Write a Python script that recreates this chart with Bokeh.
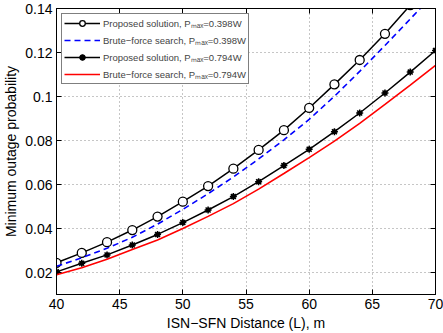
from bokeh.plotting import figure
from bokeh.models import LinearAxis, FixedTicker, CustomJSTickFormatter, Range1d
from bokeh.embed import file_html
from bokeh.resources import INLINE

# ---- data ----
distance = [40, 42, 44, 46, 48, 50, 52, 54, 56, 58, 60, 62, 64, 66, 68, 70]
prop_398 = [0.0244, 0.0289, 0.0338, 0.0393, 0.0454, 0.0522, 0.0593, 0.0672,
            0.0757, 0.0847, 0.0948, 0.1055, 0.1166, 0.1285, 0.1415, 0.1545]
brute_398 = [0.0228, 0.0267, 0.0310, 0.0360, 0.0420, 0.0487, 0.0558, 0.0634,
             0.0716, 0.0803, 0.0896, 0.1001, 0.1114, 0.1232, 0.1352, 0.1474]
prop_794 = [0.0203, 0.0242, 0.0280, 0.0325, 0.0373, 0.0427, 0.0484, 0.0545,
            0.0613, 0.0686, 0.0760, 0.0840, 0.0925, 0.1016, 0.1111, 0.1209]
brute_794 = [0.0190, 0.0222, 0.0260, 0.0304, 0.0348, 0.0400, 0.0455, 0.0513,
             0.0579, 0.0650, 0.0722, 0.0797, 0.0878, 0.0964, 0.1052, 0.1141]
x_ticks = [40, 45, 50, 55, 60, 65, 70]
y_ticks = [0.02, 0.04, 0.06, 0.08, 0.1, 0.12, 0.14]

labels = ["Proposed solution, P\u2098\u2090\u2093=0.398W",
          "Brute\u2212force search, P\u2098\u2090\u2093=0.398W",
          "Proposed solution, P\u2098\u2090\u2093=0.794W",
          "Brute\u2212force search, P\u2098\u2090\u2093=0.794W"]

FONT = "Liberation Sans"

p = figure(width=443, height=333, output_backend="svg", toolbar_location=None,
           x_range=Range1d(40, 70), y_range=Range1d(0.01, 0.14),
           min_border_left=54, min_border_right=8, min_border_top=8, min_border_bottom=37)

p.outline_line_color = "black"
p.outline_line_width = 1
p.background_fill_color = "white"
p.border_fill_color = "white"

# series
p.line(distance, prop_398, line_color="black", line_width=1.5, legend_label=labels[0])
p.scatter(distance, prop_398, marker="circle", size=9, line_color="black", line_width=1.3,
          fill_color="white", legend_label=labels[0])
p.line(distance, brute_398, line_color="#0000ff", line_width=1.6, line_dash="6 4",
       legend_label=labels[1])
p.line(distance, prop_794, line_color="black", line_width=1.5, legend_label=labels[2])
p.scatter(distance, prop_794, marker="asterisk", size=7, line_color="black", line_width=1.5,
          legend_label=labels[2])
p.scatter(distance, prop_794, marker="circle", size=4, line_color="black", fill_color="black",
          legend_label=labels[2])
p.line(distance, brute_794, line_color="#ff0000", line_width=1.6, legend_label=labels[3])

# axes
for ax in (p.xaxis[0], p.yaxis[0]):
    ax.major_tick_in = 5
    ax.major_tick_out = 0
    ax.minor_tick_line_color = None
    ax.axis_line_color = "black"
    ax.major_label_text_font = FONT
    ax.major_label_text_font_size = "14px"
    ax.major_label_text_color = "black"
    ax.axis_label_text_font = FONT
    ax.axis_label_text_font_size = "14px"
    ax.axis_label_text_font_style = "normal"
    ax.axis_label_text_color = "black"

p.xaxis[0].ticker = FixedTicker(ticks=x_ticks)
p.yaxis[0].ticker = FixedTicker(ticks=y_ticks)
p.yaxis[0].formatter = CustomJSTickFormatter(code="return String(Math.round(tick*100)/100);")
p.xaxis[0].axis_label = "ISN\u2212SFN Distance (L), m"
p.yaxis[0].axis_label = "Minimum outage probability"
p.xaxis[0].major_label_standoff = 4
p.yaxis[0].major_label_standoff = 4
p.xaxis[0].axis_label_standoff = 3
p.yaxis[0].axis_label_standoff = 3

# mirrored tick axes (MATLAB box style), no labels
top = LinearAxis(ticker=FixedTicker(ticks=x_ticks), major_tick_in=5, major_tick_out=0,
                 minor_tick_line_color=None, formatter=CustomJSTickFormatter(code="return '';"),
                 major_label_standoff=0)
right = LinearAxis(ticker=FixedTicker(ticks=y_ticks), major_tick_in=5, major_tick_out=0,
                   minor_tick_line_color=None, formatter=CustomJSTickFormatter(code="return '';"),
                   major_label_standoff=0)
p.add_layout(top, "above")
p.add_layout(right, "right")

# grid
p.grid.grid_line_color = "#8c8c8c"
p.grid.grid_line_dash = "1 3"
p.grid.grid_line_width = 1
p.xgrid.ticker = FixedTicker(ticks=x_ticks)
p.ygrid.ticker = FixedTicker(ticks=y_ticks)

# legend
lg = p.legend[0]
lg.location = "top_left"
lg.margin = 5
lg.padding = 2
lg.spacing = 3
lg.border_line_color = "black"
lg.border_line_width = 1
lg.background_fill_alpha = 1
lg.label_text_font = FONT
lg.label_text_font_size = "9.5px"
lg.label_height = 14
lg.glyph_height = 14
lg.glyph_width = 36
lg.label_standoff = 3

open("out.html", "w").write(file_html(p, INLINE))
